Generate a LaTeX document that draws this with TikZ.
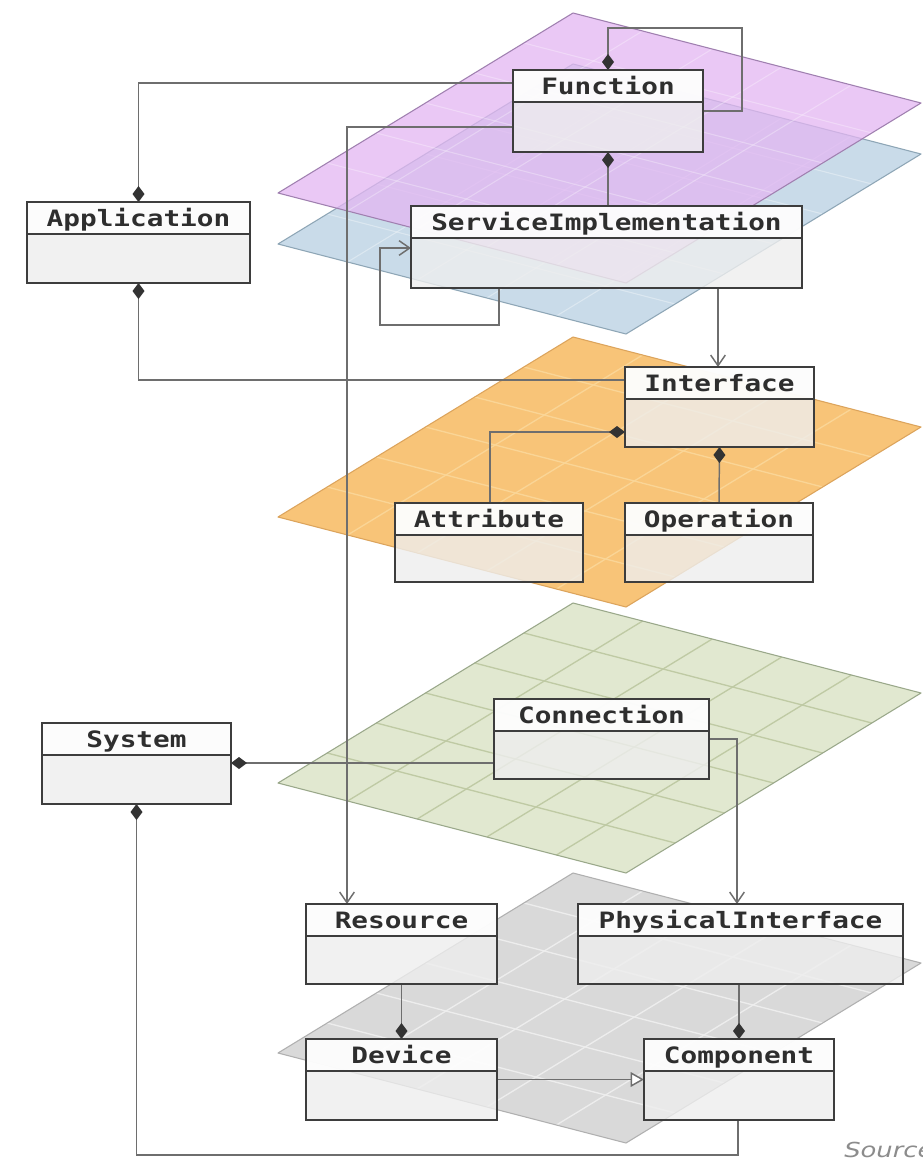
\documentclass[tikz,border=0pt]{standalone}
\usepackage{fontspec}
\newfontfamily\clsfont{DejaVu Sans Mono}
\newfontfamily\notefont{DejaVu Sans}
\usetikzlibrary{arrows.meta}

\pgfdeclarelayer{planes}
\pgfdeclarelayer{wires}
\pgfsetlayers{planes,wires,main}

% connector and class colours
\definecolor{wirec}{HTML}{6E6E6E}
\definecolor{linec}{HTML}{3D3D3D}
\definecolor{diamc}{HTML}{333333}
\definecolor{bodyc}{HTML}{EEEEEE}
\definecolor{textc}{HTML}{2E2E2E}
% layer plane colours
\definecolor{purplec}{HTML}{E3B6F2}
\definecolor{purplee}{HTML}{A080B0}
\definecolor{bluec}{HTML}{C9DBE9}
\definecolor{bluee}{HTML}{8EA6B6}
\definecolor{orangec}{HTML}{F8C478}
\definecolor{orangeg}{HTML}{FAD596}
\definecolor{orangee}{HTML}{DCA45C}
\definecolor{greenc}{HTML}{E1E8D0}
\definecolor{greeng}{HTML}{BFCAA4}
\definecolor{greene}{HTML}{9AA88A}
\definecolor{grayc}{HTML}{D9D9D9}
\definecolor{grayg}{HTML}{EDEDED}
\definecolor{graye}{HTML}{B0B0B0}

\tikzset{
  clsbox/.style={rectangle, inner sep=0pt, outer sep=0pt, fill=bodyc, fill opacity=0.8},
  clshead/.style={fill=white, fill opacity=0.85},
  clsline/.style={draw=linec, line width=1.9pt},
  clstitle/.style={font=\clsfont\bfseries\fontsize{16.9}{18}\selectfont, text=textc, inner sep=0pt},
  wire/.style={draw=wirec, line width=1.1pt},
  compstart/.style={wire, {Diamond[length=12pt,width=9pt,color=diamc]}-},
  compend/.style={wire, -{Diamond[length=12pt,width=9pt,color=diamc]}},
  nav/.style={wire, -{Straight Barb[length=8pt,width=11pt]}},
  gen/.style={wire, -{Triangle[open,length=10pt,width=11pt,fill=white]}},
  notetext/.style={font=\notefont\itshape\fontsize{15.5}{17}\selectfont, text=black!45, inner sep=0pt},
}

% class box: name, left, top, right, bottom, title
\newcommand\umlclass[6]{%
  \pgfmathsetmacro\ucx{(#2+#4)/2}%
  \pgfmathsetmacro\ucy{(#3+#5)/2}%
  \pgfmathsetmacro\ucw{(#4-#2)*0.75}%
  \pgfmathsetmacro\uch{(#5-#3)*0.75}%
  \node[clsbox, minimum width=\ucw pt, minimum height=\uch pt] (#1) at (\ucx,\ucy) {};
  \fill[clshead] (#1.north west) rectangle ([yshift=-24pt]#1.north east);
  \draw[clsline] (#1.north west) rectangle (#1.south east);
  \draw[clsline] ([yshift=-24pt]#1.north west) -- ([yshift=-24pt]#1.north east);
  \node[clstitle, anchor=base] (#1-title) at ([yshift=-18.4pt]#1.north) {\scalebox{1.23}[1]{#6}};
}

% tilted layer plane with grid: top y, fill style, grid style, edge style
\newcommand\layerplane[4]{%
  \fill[#2] (573,#1) -- ++(348,90) -- ++(-295,180) -- ++(-348,-90) -- cycle;
  \foreach \k in {1,...,4}
    \draw[#3] ({573+\k*69.6},{#1+\k*18}) -- ++(-295,180);
  \foreach \k in {1,...,5}
    \draw[#3] ({573-\k*295/6},{#1+\k*30}) -- ++(348,90);
  \draw[#4, line join=round] (573,#1) -- ++(348,90) -- ++(-295,180) -- ++(-348,-90) -- cycle;
}

\begin{document}
\begin{tikzpicture}[x=0.75pt,y=-0.75pt]
\useasboundingbox (0,0) rectangle (922,1161);

\begin{pgfonlayer}{planes}
  \fill[white] (0,0) rectangle (922,1161);
  \layerplane{64}{fill=bluec}{draw=white, draw opacity=0.35, line width=0.8pt}{draw=bluee, line width=0.8pt}
  \layerplane{13}{fill=purplec, fill opacity=0.75}{draw=white, draw opacity=0.3, line width=0.8pt}{draw=purplee, line width=0.8pt}
  \layerplane{337}{fill=orangec}{draw=orangeg, line width=1pt}{draw=orangee, line width=0.8pt}
  \layerplane{603}{fill=greenc}{draw=greeng, line width=1pt}{draw=greene, line width=0.8pt}
  \layerplane{873}{fill=grayc}{draw=grayg, line width=1pt}{draw=graye, line width=0.8pt}
\end{pgfonlayer}

% classes
\umlclass{fn}{513}{70}{703}{152}{Function}
\umlclass{si}{411}{206}{802}{288}{ServiceImplementation}
\umlclass{app}{27}{202}{250}{283}{Application}
\umlclass{intf}{625}{367}{814}{447}{Interface}
\umlclass{attr}{395}{503}{583}{582}{Attribute}
\umlclass{oper}{625}{503}{813}{582}{Operation}
\umlclass{conn}{494}{699}{709}{779}{Connection}
\umlclass{sys}{42}{723}{231}{804}{System}
\umlclass{res}{306}{904}{497}{984}{Resource}
\umlclass{phys}{578}{904}{903}{984}{PhysicalInterface}
\umlclass{dev}{306}{1039}{497}{1120}{Device}
\umlclass{comp}{644}{1039}{834}{1120}{Component}

\node[notetext, anchor=base west] (src) at (844,1157) {\scalebox{1.25}[1]{Source}};

\begin{pgfonlayer}{wires}
  \coordinate (fnloop) at (742,28);
  \coordinate (siloop) at (380,325);
  \coordinate (sysloop) at (738,1155);
  % Function
  \draw[compstart] (fn.north) |- (fnloop) |- (fn.east);
  \draw[compend] (fn.west |- 0,83) -| (app.north);
  \draw[nav] (fn.west |- 0,127) -| (347,0 |- res.north);
  \draw[compstart] (fn.south) -- (fn.south |- si.north);
  % ServiceImplementation
  \draw[nav] (499,0 |- si.south) |- (siloop) |- (si.west |- 0,248);
  \draw[nav] (718,0 |- si.south) -- (718,0 |- intf.north);
  % Interface
  \draw[compend] (intf.west |- 0,380) -| (app.south);
  \draw[compend] (490,0 |- attr.north) |- (intf.west |- 0,432);
  \draw[compend] (oper.north) -- (intf.south);
  % Connection and System
  \draw[compend] (conn.west |- 0,763) -- (sys.east |- 0,763);
  \draw[nav] (conn.east |- 0,739) -| (737,0 |- phys.north);
  \draw[compstart] (sys.south) |- (sysloop) -- (sysloop |- comp.south);
  % physical layer
  \draw[compend] (res.south) -- (dev.north);
  \draw[compend] (comp.north |- phys.south) -- (comp.north);
  \draw[gen] (dev.east) -- (comp.west);
\end{pgfonlayer}
\end{tikzpicture}
\end{document}
